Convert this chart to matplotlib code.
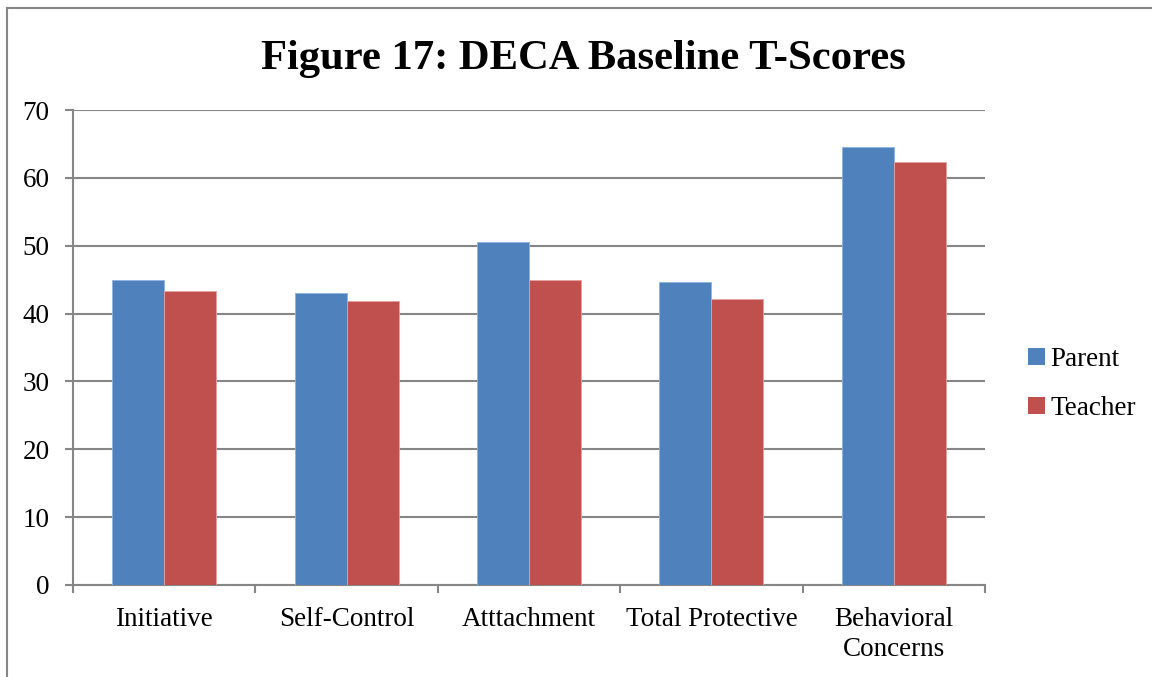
import matplotlib.pyplot as plt
import numpy as np
from matplotlib.lines import Line2D
from matplotlib.patches import Patch

categories = ["Initiative", "Self-Control", "Atttachment", "Total Protective",
              "Behavioral\nConcerns"]
parent = [44.9, 43.1, 50.6, 44.6, 64.5]
teacher = [43.3, 41.9, 44.9, 42.2, 62.3]

blue = "#4F81BD"
red = "#C0504D"
grid_gray = "#868686"

plt.rcParams["font.family"] = ["Liberation Serif", "DejaVu Serif"]

fig = plt.figure(figsize=(11.52, 6.77), dpi=100)
ax = fig.add_axes([73 / 1152, 1 - 585 / 677, 912 / 1152, 475 / 677])

x = np.arange(len(categories))
w = 0.285
ax.bar(x - w / 2, parent, w, color=blue, edgecolor="#8EB4E3", linewidth=0.6, zorder=3)
ax.bar(x + w / 2, teacher, w, color=red, edgecolor="#E6A0A0", linewidth=0.6, zorder=3)

ax.set_xlim(-0.5, len(categories) - 0.5)
ax.set_ylim(0, 70)
ax.set_yticks(range(0, 71, 10))
ax.yaxis.grid(True, color=grid_gray, linewidth=1.5, zorder=0)

# category labels centred, ticks at the boundaries
ax.set_xticks(x)
ax.set_xticklabels(categories, fontsize=19.5, linespacing=1.25)
ax.set_xticks(np.arange(-0.5, len(categories)), minor=True)
ax.tick_params(axis="x", which="major", length=0, pad=16)
ax.tick_params(axis="x", which="minor", length=6, width=1.5, color=grid_gray,
               direction="out")
ax.tick_params(axis="y", length=6, width=1.5, color=grid_gray, labelsize=19.5, pad=11)

for s in ["top", "right"]:
    ax.spines[s].set_visible(False)
for s in ["left", "bottom"]:
    ax.spines[s].set_color(grid_gray)
    ax.spines[s].set_linewidth(1.5)

fig.text(0.506, 0.913, "Figure 17: DECA Baseline T-Scores", ha="center",
         va="center", fontsize=30.7, fontweight="bold")

handles = [Patch(facecolor=blue), Patch(facecolor=red)]
fig.legend(handles, ["Parent", "Teacher"], loc="center left",
           bbox_to_anchor=(1004 / 1152, 1 - 384 / 677), frameon=False,
           fontsize=19.5, handlelength=0.6, handleheight=0.6,
           handletextpad=0.2, labelspacing=0.9)

# outer frame of the chart area
fig.add_artist(Line2D([7 / 1152, 7 / 1152], [0, 1 - 8 / 677],
                      transform=fig.transFigure, color=grid_gray, linewidth=1.5))
fig.add_artist(Line2D([7 / 1152, 1], [1 - 8 / 677, 1 - 8 / 677],
                      transform=fig.transFigure, color=grid_gray, linewidth=1.5))

fig.savefig("out.png", dpi=100)
